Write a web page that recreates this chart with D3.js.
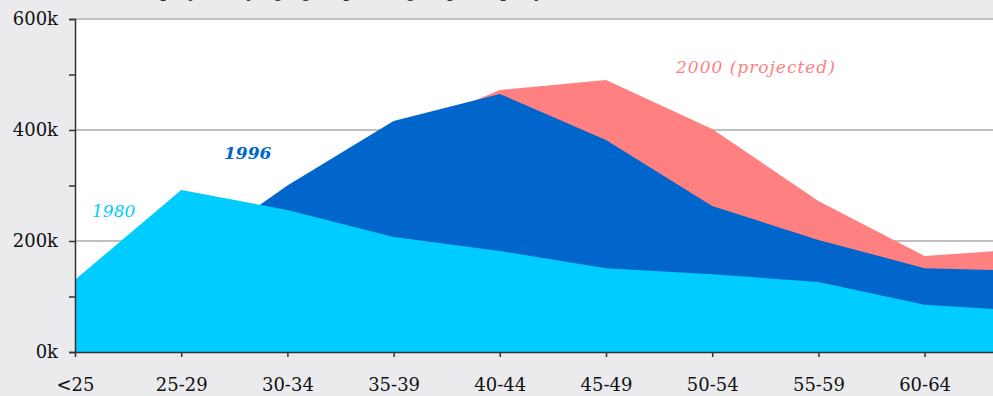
<!DOCTYPE html>
<html>
<head>
<meta charset="utf-8">
<script src="https://cdn.jsdelivr.net/npm/d3@7"></script>
<style>
  html, body { margin: 0; padding: 0; background: #ebebed; overflow: hidden; }
  svg { display: block; }
  text { font-family: "DejaVu Serif", "Liberation Serif", serif; }
</style>
</head>
<body>
<svg id="chart" width="1100" height="396"></svg>
<script>
// Employees by age group (thousands)
const ageGroups = ["<25", "25-29", "30-34", "35-39", "40-44", "45-49", "50-54", "55-59", "60-64", "65+"];
const y1980 = [130, 292, 256, 207, 182, 151, 140, 126, 85, 73];
const y1996 = [90, 165, 300, 416, 465, 382, 263, 202, 151, 146];
const y2000 = [100, 180, 280, 392, 472, 490, 402, 272, 173, 186];
const yTicks = [0, 200, 400, 600];
const yMinorTicks = [0, 100, 200, 300, 400, 500, 600];

const series = [
  { name: "2000 (projected)", values: y2000, color: "#ff8080", bold: false, spacing: 1, label: [676, 73] },
  { name: "1996", values: y1996, color: "#0066cc", bold: true, spacing: 0, label: [224, 159] },
  { name: "1980", values: y1980, color: "#00ccff", bold: false, spacing: 0, label: [92, 217] }
];

const svg = d3.select("#chart");
const viewWidth = 993;
const plotLeft = 75, plotTop = 19, plotBottom = 352, step = 106.2, svgWidth = 1100;

const x = d3.scalePoint().domain(ageGroups).range([plotLeft, plotLeft + step * (ageGroups.length - 1)]);
const y = d3.scaleLinear().domain([0, 600]).range([plotBottom, plotTop]);

// title (sits mostly above the visible area)
svg.append("text")
  .attr("x", 130).attr("y", -3)
  .attr("font-size", 18).attr("fill", "#333")
  .text("Employees by age group: an ageing company workforce");

// plot background
svg.append("rect")
  .attr("x", plotLeft).attr("y", plotTop)
  .attr("width", svgWidth - plotLeft).attr("height", plotBottom - plotTop)
  .attr("fill", "#ffffff");

// gridlines
svg.append("g").selectAll("line")
  .data(yTicks.filter(d => d > 0))
  .join("line")
  .attr("x1", plotLeft).attr("x2", svgWidth)
  .attr("y1", d => y(d)).attr("y2", d => y(d))
  .attr("stroke", "#c0c0c0").attr("stroke-width", 2);

// overlapping areas, earliest year in front
const area = d3.area()
  .x((d, i) => x(ageGroups[i]))
  .y0(y(0))
  .y1(d => y(d));

svg.append("g").selectAll("path")
  .data(series)
  .join("path")
  .attr("d", d => area(d.values))
  .attr("fill", d => d.color);

// series labels
svg.append("g").selectAll("text")
  .data(series)
  .join("text")
  .attr("x", d => d.label[0]).attr("y", d => d.label[1])
  .attr("font-size", 17)
  .attr("font-style", "italic")
  .attr("font-weight", d => d.bold ? "bold" : "normal")
  .attr("letter-spacing", d => d.spacing)
  .attr("fill", d => d.color)
  .text(d => d.name);

// y axis
const yAxis = svg.append("g").attr("transform", `translate(${plotLeft},0)`);
yAxis.call(d3.axisLeft(y).tickValues(yMinorTicks).tickSize(6).tickFormat(""));
yAxis.select(".domain").attr("stroke", "#333").attr("stroke-width", 1.5);
yAxis.selectAll(".tick line").attr("stroke", "#333").attr("stroke-width", 1.5);
yAxis.append("g").selectAll("text")
  .data(yTicks)
  .join("text")
  .attr("x", -17).attr("y", d => y(d)).attr("dy", "0.35em")
  .attr("text-anchor", "end")
  .attr("font-size", 18).attr("fill", "#111")
  .text(d => d + "k");

// x axis
const xAxis = svg.append("g").attr("transform", `translate(0,${plotBottom})`);
xAxis.call(d3.axisBottom(x).tickSize(5).tickSizeOuter(0));
xAxis.select(".domain").attr("stroke", "#333").attr("stroke-width", 1.5)
  .attr("d", `M${plotLeft},0.5H${svgWidth}`);
xAxis.selectAll(".tick line").attr("stroke", "#333").attr("stroke-width", 1.5);
xAxis.selectAll(".tick text")
  .attr("y", 33).attr("dy", "0.35em")
  .attr("font-size", 18).attr("fill", "#111")
  .attr("font-family", "DejaVu Serif, serif");
// labels whose tick lies past the visible width are not shown
xAxis.selectAll(".tick").filter(d => x(d) > viewWidth).select("text").remove();
</script>
</body>
</html>
